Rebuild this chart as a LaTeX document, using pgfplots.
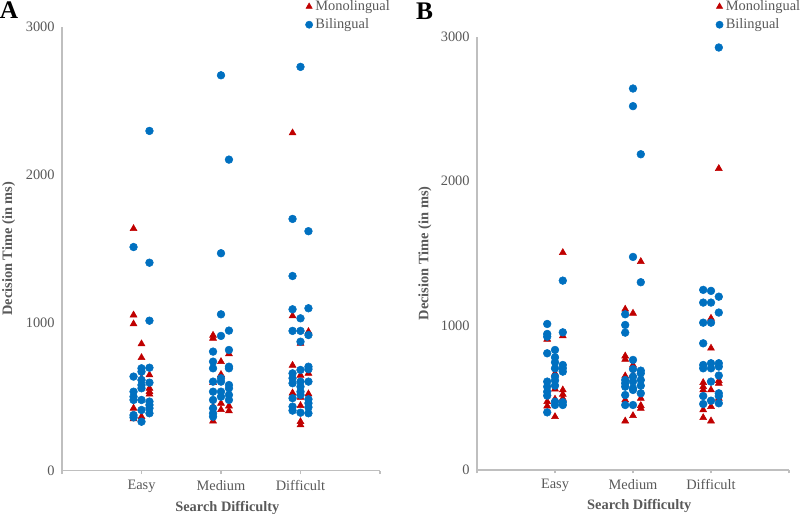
\documentclass[border=0pt]{standalone}
\usepackage{fontspec}
\setmainfont{Liberation Serif}
\usepackage{pgfplots}
\pgfplotsset{compat=1.18}

\definecolor{monored}{RGB}{192,0,0}
\definecolor{biblue}{RGB}{0,112,192}
\definecolor{txtgray}{RGB}{89,89,89}
\definecolor{axgray}{RGB}{191,191,191}

\pgfplotsset{
  panel/.style={
    scale only axis,
    xmin=0, xmax=4, ymin=0, ymax=3000,
    axis lines*=left,
    axis line style={draw=axgray, line width=0.8pt},
    xtick={0,1,2,3,4},
    xticklabels={,Easy,Medium,Difficult,},
    ytick={0,1000,2000,3000},
    xtick align=outside,
    major tick length=2.5pt,
    x tick style={draw=axgray, line width=0.8pt},
    y tick style={draw=none},
    /pgf/number format/assume math mode=true,
    /pgf/number format/set thousands separator={},
    tick label style={font=\fontsize{10.8}{12}\selectfont, text=txtgray},
    yticklabel style={xshift=-2pt},
    xticklabel style={yshift=-1pt},
    xlabel={Search Difficulty},
    ylabel={Decision Time (in ms)},
    label style={font=\fontsize{10.8}{12}\selectfont\bfseries, text=txtgray},
    xlabel style={at={(axis description cs:0.52,-0.083)}, anchor=center},
    ylabel style={at={(axis description cs:-0.168,0.5)}, anchor=center},
    legend cell align=left,
    legend style={draw=none, fill=none, font=\fontsize{10.8}{12}\selectfont,
      text=txtgray, row sep=0.6pt, inner sep=0pt},
    legend image code/.code={\draw[#1, mark size=2.7pt] plot coordinates {(0.1cm,0cm)};},
  },
  mono/.style={only marks, mark=triangle*, mark size=3pt,
    mark options={fill=monored, draw=monored}},
  bi/.style={only marks, mark=*, mark size=2.9pt,
    mark options={fill=biblue, draw=biblue}},
}

\begin{document}
\begin{tikzpicture}
\path[use as bounding box] (0pt,0pt) rectangle (600pt,385.5pt);

\node[font=\fontsize{19}{19}\selectfont\bfseries, anchor=center] at (6.75pt,378pt) {A};
\node[font=\fontsize{19}{19}\selectfont\bfseries, anchor=center] at (318.4pt,377.3pt) {B};

% Panel A
\begin{axis}[panel, at={(46.5pt,32.5pt)}, anchor=south west,
  width=238.5pt, height=332.8pt,
  legend style={at={(axis description cs:0.765,1.066)}, anchor=north west}]
\addplot[mono] coordinates {
  (0.9,1636) (0.9,1052) (0.9,992) (0.9,422) (0.9,350)
  (1.0,857) (1.0,764) (1.0,625) (1.0,365)
  (1.1,647) (1.1,557) (1.1,534) (1.1,517)
  (1.9,915) (1.9,895) (1.9,595) (1.9,433) (1.9,335)
  (2.0,737) (2.0,650) (2.0,455) (2.0,412)
  (2.1,790) (2.1,437) (2.1,404)
  (2.9,2283) (2.9,1046) (2.9,712) (2.9,525)
  (3.0,861) (3.0,645) (3.0,495) (3.0,440) (3.0,331) (3.0,309)
  (3.1,940) (3.1,658) (3.1,519)
};
\addplot[bi] coordinates {
  (0.9,1512) (0.9,636) (0.9,534) (0.9,500) (0.9,478) (0.9,376) (0.9,360)
  (1.0,692) (1.0,669) (1.0,613) (1.0,579) (1.0,557) (1.0,478) (1.0,410) (1.0,331)
  (1.1,2297) (1.1,1406) (1.1,1014) (1.1,696) (1.1,595) (1.1,467) (1.1,444) (1.1,422) (1.1,388)
  (1.9,805) (1.9,737) (1.9,692) (1.9,602) (1.9,534) (1.9,478) (1.9,422) (1.9,388) (1.9,365)
  (2.0,2673) (2.0,1470) (2.0,1057) (2.0,911) (2.0,625) (2.0,602) (2.0,534) (2.0,500)
  (2.1,2103) (2.1,947) (2.1,816) (2.1,703) (2.1,692) (2.1,579) (2.1,557) (2.1,512) (2.1,478)
  (2.9,1702) (2.9,1316) (2.9,1091) (2.9,945) (2.9,658) (2.9,625) (2.9,591) (2.9,490) (2.9,433) (2.9,406)
  (3.0,2730) (3.0,1030) (3.0,945) (3.0,872) (3.0,681) (3.0,602) (3.0,568) (3.0,534) (3.0,512) (3.0,392)
  (3.1,1619) (3.1,1098) (3.1,917) (3.1,703) (3.1,686) (3.1,602) (3.1,483) (3.1,456) (3.1,429) (3.1,388)
};
\legend{Monolingual, Bilingual}
\end{axis}

% Panel B
\begin{axis}[panel, at={(357.75pt,33pt)}, anchor=south west,
  width=234pt, height=325pt,
  ylabel style={at={(axis description cs:-0.167,0.5)}},
  legend style={at={(axis description cs:0.765,1.09)}, anchor=north west}]
\addplot[mono] coordinates {
  (0.9,905) (0.9,473) (0.9,443)
  (1.0,669) (1.0,560) (1.0,490) (1.0,369)
  (1.1,1505) (1.1,928) (1.1,554) (1.1,524) (1.1,496)
  (1.9,1113) (1.9,789) (1.9,766) (1.9,651) (1.9,485) (1.9,339)
  (2.0,1085) (2.0,727) (2.0,658) (2.0,376)
  (2.1,1443) (2.1,635) (2.1,496) (2.1,446) (2.1,427)
  (2.9,605) (2.9,577) (2.9,554) (2.9,416) (2.9,362)
  (3.0,1050) (3.0,843) (3.0,554) (3.0,439) (3.0,339)
  (3.1,2087) (3.1,619) (3.1,600) (3.1,496)
};
\addplot[bi] coordinates {
  (0.9,1011) (0.9,942) (0.9,923) (0.9,808) (0.9,612) (0.9,577) (0.9,542) (0.9,515) (0.9,399)
  (1.0,831) (1.0,780) (1.0,746) (1.0,704) (1.0,646) (1.0,619) (1.0,584) (1.0,473) (1.0,450)
  (1.1,1311) (1.1,953) (1.1,727) (1.1,704) (1.1,681) (1.1,470) (1.1,450)
  (1.9,1078) (1.9,1004) (1.9,951) (1.9,623) (1.9,600) (1.9,577) (1.9,519) (1.9,450)
  (2.0,2641) (2.0,2519) (2.0,1475) (2.0,762) (2.0,699) (2.0,646) (2.0,612) (2.0,566) (2.0,554) (2.0,450)
  (2.1,2186) (2.1,1300) (2.1,688) (2.1,669) (2.1,623) (2.1,584) (2.1,531)
  (2.9,1247) (2.9,1159) (2.9,1020) (2.9,877) (2.9,727) (2.9,704) (2.9,512) (2.9,457)
  (3.0,1240) (3.0,1159) (3.0,1020) (3.0,739) (3.0,704) (3.0,612) (3.0,480)
  (3.1,2925) (3.1,1200) (3.1,1090) (3.1,739) (3.1,716) (3.1,654) (3.1,531) (3.1,512) (3.1,462)
};
\legend{Monolingual, Bilingual}
\end{axis}
\end{tikzpicture}
\end{document}
